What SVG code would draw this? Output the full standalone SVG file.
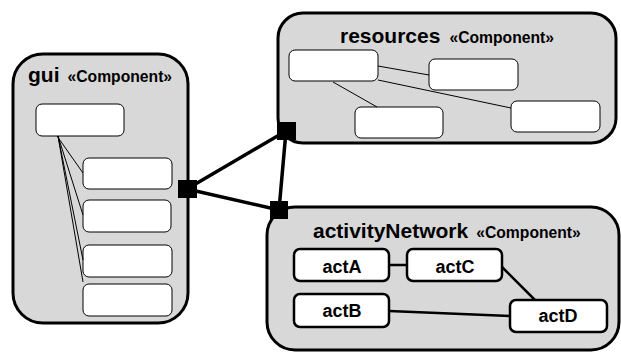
<svg xmlns="http://www.w3.org/2000/svg" width="621" height="353" viewBox="0 0 621 353">
<style>
.comp{fill:#d9d8d9;stroke:#000;stroke-width:3}
.box{fill:#fff;stroke:#000;stroke-width:1}
.act{fill:#fff;stroke:#000;stroke-width:2.5}
.thin{stroke:#000;stroke-width:1;fill:none}
.mid{stroke:#000;stroke-width:2.5;fill:none}
.conn{stroke:#000;stroke-width:3.5;fill:none}
.port{fill:#000}
.title{font-family:"Liberation Sans",Arial,sans-serif;font-weight:bold;font-size:21px;fill:#000}
.st{font-family:"Liberation Sans",Arial,sans-serif;font-weight:bold;font-size:15.7px;fill:#000}
.lbl{font-family:"Liberation Sans",Arial,sans-serif;font-weight:bold;font-size:18px;fill:#000;text-anchor:middle}
</style>
<g id="gui">
<rect class="comp" x="13" y="54" width="175" height="269" rx="30" ry="30"/>
<text x="28" y="82"><tspan class="title">gui</tspan><tspan class="st" dx="8">«Component»</tspan></text>
<rect class="box" x="36" y="104" width="88" height="32" rx="6"/>
<rect class="box" x="83" y="158" width="89" height="31" rx="6"/>
<rect class="box" x="83" y="200" width="88" height="32" rx="6"/>
<rect class="box" x="83" y="245" width="89" height="32" rx="6"/>
<rect class="box" x="83" y="284" width="89" height="32" rx="6"/>
<path class="thin" d="M57,136 L83,173 M58,136 L83,215 M58,136 L83,260 M58,136 L83,282"/>
</g>
<g id="resources">
<rect class="comp" x="278" y="13" width="338" height="130" rx="25" ry="25"/>
<text x="340" y="43"><tspan class="title">resources</tspan><tspan class="st" dx="9">«Component»</tspan></text>
<rect class="box" x="289" y="50" width="89" height="31" rx="6"/>
<rect class="box" x="429" y="59" width="89" height="31" rx="6"/>
<rect class="box" x="355" y="107" width="88" height="31" rx="6"/>
<rect class="box" x="511" y="101" width="89" height="31" rx="6"/>
<path class="thin" d="M378,66 L429,75 M378,80 L511,108 M333,82 L377,107"/>
</g>
<g id="activityNetwork">
<rect class="comp" x="267" y="207" width="352" height="143" rx="28" ry="28"/>
<text x="313" y="238"><tspan class="title">activityNetwork</tspan><tspan class="st" dx="8">«Component»</tspan></text>
<path class="mid" d="M389,265 L407,265 M502,267 L535,300 M389,311 L510,316"/>
<g id="actA"><rect class="act" x="294" y="249" width="95" height="32" rx="6"/><text class="lbl" x="342" y="273">actA</text></g>
<g id="actC"><rect class="act" x="407" y="249" width="95" height="32" rx="6"/><text class="lbl" x="455" y="273">actC</text></g>
<g id="actB"><rect class="act" x="294" y="294" width="95" height="33" rx="6"/><text class="lbl" x="342" y="317">actB</text></g>
<g id="actD"><rect class="act" x="510" y="300" width="97" height="32" rx="6"/><text class="lbl" x="558" y="322">actD</text></g>
</g>
<g id="connectors">
<path class="conn" d="M187,189 L286,131 M187,189 L279,210 M286,131 L279,210"/>
<rect class="port" x="178" y="180" width="19" height="18"/>
<rect class="port" x="277" y="122" width="19" height="18"/>
<rect class="port" x="270" y="201" width="18" height="18"/>
</g>
</svg>
